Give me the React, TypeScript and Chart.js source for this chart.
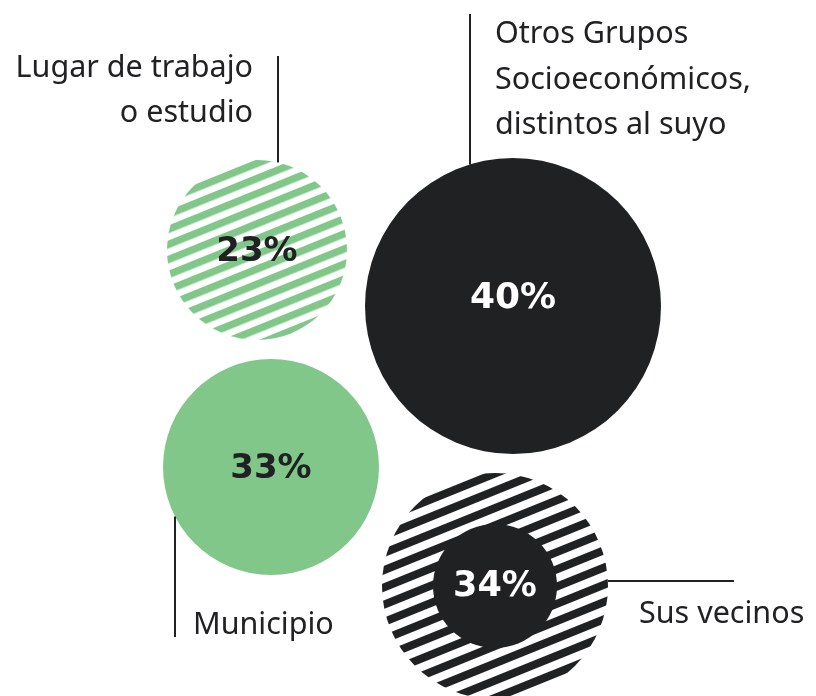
import React, { useEffect, useRef } from "react";
import { Chart, registerables } from "chart.js";

Chart.register(...registerables);

// ---- data ----
const categories = [
  "Lugar de trabajo o estudio",
  "Otros Grupos Socioeconómicos, distintos al suyo",
  "Municipio",
  "Sus vecinos",
];
const values = [23, 40, 33, 34];
const bubbleX = [257, 513, 271, 495];
const bubbleY = [250, 306, 467, 586];
const bubbleR = [90, 148, 108, 113];
const coreR = [0, 0, 0, 62];
const labelLines = [
  ["Lugar de trabajo", "o estudio"],
  ["Otros Grupos", "Socioeconómicos,", "distintos al suyo"],
  ["Municipio"],
  ["Sus vecinos"],
];

// ---- styles ----
const DARK = "#202123";
const GREEN = "#82c78a";

function stripePattern(color: string, period: number, thick: number, angle: number, ox: number, oy: number) {
  const c = document.createElement("canvas");
  c.width = 8;
  c.height = period;
  const g = c.getContext("2d")!;
  g.fillStyle = color;
  g.fillRect(0, 0, 8, thick);
  const p = g.createPattern(c, "repeat")!;
  p.setTransform(new DOMMatrix().translate(ox, oy).rotate(-angle));
  return p;
}

const pctStyle = [
  { color: DARK, size: 34, dy: 2 },
  { color: "#ffffff", size: 36, dy: -7 },
  { color: DARK, size: 34, dy: 2 },
  { color: "#ffffff", size: 35, dy: 1 },
];
const leaderLayout = [
  { kind: "up", off: 21, end: 56, tx: 253, ty: [77, 122], align: "right" },
  { kind: "up", off: -43, end: 14, tx: 495, ty: [43, 89, 134], align: "left" },
  { kind: "down", off: -96, end: 637, tx: 193, ty: [634], align: "left" },
  { kind: "right", off: -5, end: 734, tx: 639, ty: [623], align: "left" },
];

const labelPlugin = {
  id: "bubbleLabels",
  afterDatasetsDraw(chart: any) {
    const ctx = chart.ctx as CanvasRenderingContext2D;
    const meta = chart.getDatasetMeta(0);
    ctx.save();
    meta.data.forEach((el: any, i: number) => {
      const cx = el.x;
      const cy = el.y;
      const r = el.options.radius;
      const L = leaderLayout[i];
      ctx.strokeStyle = DARK;
      ctx.lineWidth = 2;
      ctx.beginPath();
      if (L.kind === "up") {
        const x = cx + L.off;
        const y0 = cy - Math.sqrt(r * r - L.off * L.off);
        ctx.moveTo(x, y0);
        ctx.lineTo(x, L.end);
      } else if (L.kind === "down") {
        const x = cx + L.off;
        const y0 = cy + Math.sqrt(r * r - L.off * L.off);
        ctx.moveTo(x, y0);
        ctx.lineTo(x, L.end);
      } else {
        const y = cy + L.off;
        const x0 = cx + Math.sqrt(r * r - L.off * L.off);
        ctx.moveTo(x0, y);
        ctx.lineTo(L.end, y);
      }
      ctx.stroke();

      ctx.fillStyle = DARK;
      ctx.font = '30.5px "Noto Sans"';
      ctx.textAlign = L.align as CanvasTextAlign;
      ctx.textBaseline = "alphabetic";
      labelLines[i].forEach((t, k) => ctx.fillText(t, L.tx, L.ty[k]));

      const s = pctStyle[i];
      ctx.fillStyle = s.color;
      ctx.font = `bold ${s.size}px "DejaVu Sans"`;
      ctx.textAlign = "center";
      ctx.textBaseline = "middle";
      ctx.fillText(`${values[i]}%`, cx, cy + s.dy);
    });
    ctx.restore();
  },
};

export default function App() {
  const ref = useRef<HTMLCanvasElement>(null);
  useEffect(() => {
    const fills = [
      stripePattern(GREEN, 14.8, 7.4, 22, bubbleX[0], bubbleY[0]),
      DARK,
      GREEN,
      stripePattern(DARK, 16.4, 8, 22, bubbleX[3], bubbleY[3] + 4),
    ];
    const chart = new Chart(ref.current!, {
      type: "bubble",
      data: {
        labels: categories,
        datasets: [
          {
            label: "Porcentaje",
            data: values.map((v, i) => ({ x: bubbleX[i], y: bubbleY[i], r: bubbleR[i] })),
            backgroundColor: fills,
            borderWidth: 0,
            order: 2,
            clip: false,
          },
          {
            label: "Núcleo",
            data: values
              .map((v, i) => ({ x: bubbleX[i], y: bubbleY[i], r: coreR[i] }))
              .filter((d) => d.r > 0),
            backgroundColor: DARK,
            borderWidth: 0,
            order: 1,
            clip: false,
          },
        ],
      },
      options: {
        animation: false,
        responsive: false,
        events: [],
        layout: { padding: 0, autoPadding: false },
        plugins: { legend: { display: false }, tooltip: { enabled: false } },
        scales: {
          x: { type: "linear", min: 0, max: 816, display: false },
          y: { type: "linear", min: 0, max: 696, reverse: true, display: false },
        },
      },
      plugins: [labelPlugin],
    });
    return () => chart.destroy();
  }, []);
  return (
    <div style={{ position: "absolute", left: 0, top: 0, width: 816, height: 696, background: "#fff" }}>
      <canvas ref={ref} width={816} height={696} style={{ display: "block" }} />
    </div>
  );
}
